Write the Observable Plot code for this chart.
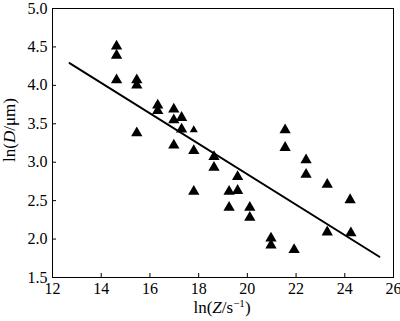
<!DOCTYPE html>
<html><head><meta charset="utf-8">
<script src="https://cdn.jsdelivr.net/npm/d3@7"></script>
<script src="https://cdn.jsdelivr.net/npm/@observablehq/plot@0.6"></script>
<style>body{margin:0;background:#fff}
#chart svg text{font-family:"Liberation Serif","Times New Roman",serif !important;}</style>
</head><body><div id="chart"></div>
<script>
const lnZ = [14.63,14.63,14.63,15.46,15.46,15.46,16.32,16.32,16.98,16.98,16.98,17.3,17.3,17.8,17.8,17.8,18.63,18.63,19.25,19.25,19.6,19.6,20.1,20.1,20.97,20.97,21.55,21.55,21.92,22.41,22.41,23.28,23.28,24.22,24.25];
const lnD = [4.51,4.39,4.07,4.07,4.0,3.38,3.74,3.67,3.69,3.55,3.22,3.58,3.43,3.42,3.15,2.62,3.07,2.93,2.62,2.41,2.81,2.63,2.41,2.28,2.01,1.92,3.42,3.19,1.86,3.03,2.84,2.71,2.09,2.51,2.08];
const size = [4.2,4.2,4.2,4.2,4.2,4.2,4.2,4.2,4.2,4.2,4.2,4.2,4.2,3,4.2,4.2,4.2,4.2,4.2,4.2,4.2,4.2,4.2,4.2,4.2,4.2,4.2,4.2,4.2,4.2,4.2,4.2,4.2,4.2,4.2];
const fitX = [12.7, 25.42];
const fitY = [4.29, 1.77];
const xTicks = [12,14,16,18,20,22,24,26];
const yTicks = [1.5,2.0,2.5,3.0,3.5,4.0,4.5,5.0];

const FONT = "Liberation Serif, Times New Roman, serif";
const pts = lnZ.map((x,i)=>({x, y: lnD[i], r: size[i]}));
const fit = fitX.map((x,i)=>({x, y: fitY[i]}));

const plot = Plot.plot({
  width: 400, height: 321,
  marginLeft: 52, marginRight: 7, marginTop: 8, marginBottom: 44,
  style: {fontFamily: FONT, fontSize: "16px", color: "#000", background: "#fff"},
  x: {domain: [12, 26]},
  y: {domain: [1.5, 5.0]},
  r: {type: "identity"},
  marks: [
    Plot.frame({stroke: "#000", strokeWidth: 1}),
    Plot.axisX({ticks: xTicks, tickSize: -4, tickPadding: 9, tickFormat: d => d, label: null, fontSize: 16}),
    Plot.axisY({ticks: yTicks, tickSize: -4, tickPadding: 9, tickFormat: d => d.toFixed(1), label: null, fontSize: 16}),
    Plot.line(fit, {x: "x", y: "y", stroke: "#000", strokeWidth: 2}),
    Plot.dot(pts, {x: "x", y: "y", r: "r", symbol: "triangle", fill: "#000", stroke: "none"})
  ]
});
const svg = d3.select(plot);
const xl = svg.append("text").attr("x", 222).attr("y", 313).attr("text-anchor", "middle").attr("font-size", 17);
xl.append("tspan").text("ln(");
xl.append("tspan").attr("font-style", "italic").text("Z");
xl.append("tspan").text("/s");
xl.append("tspan").attr("font-size", 11).attr("dy", -6).text("−1");
xl.append("tspan").attr("dy", 6).text(")");
const yl = svg.append("text").attr("transform", "translate(15,130) rotate(-90)").attr("text-anchor", "middle").attr("font-size", 17);
yl.append("tspan").text("ln(");
yl.append("tspan").attr("font-style", "italic").text("D");
yl.append("tspan").text("/μm)");
document.getElementById("chart").appendChild(plot);
</script></body></html>
